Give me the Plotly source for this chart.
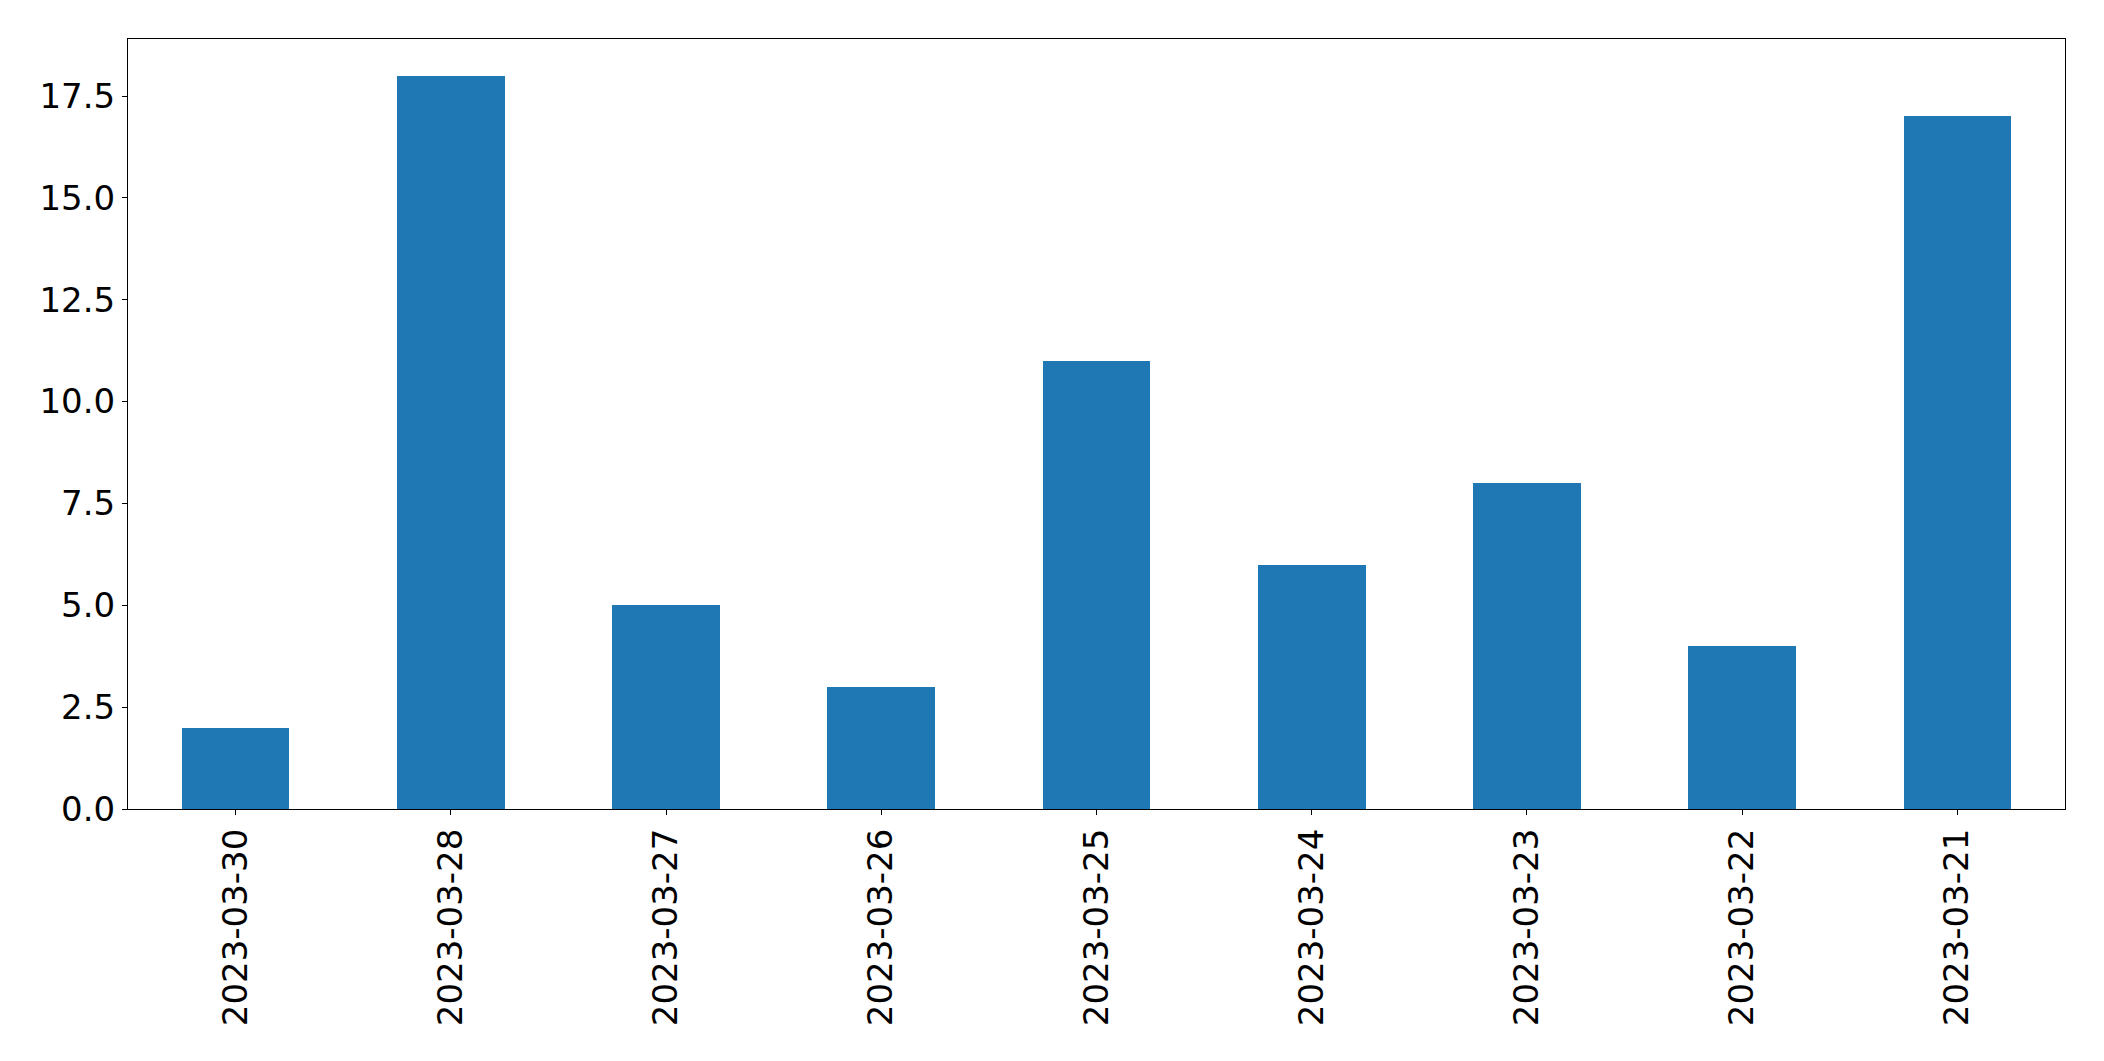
import plotly.graph_objects as go

dates = ["2023-03-30", "2023-03-28", "2023-03-27", "2023-03-26", "2023-03-25",
         "2023-03-24", "2023-03-23", "2023-03-22", "2023-03-21"]
counts = [2, 18, 5, 3, 11, 6, 8, 4, 17]
y_ticks = [0, 2.5, 5, 7.5, 10, 12.5, 15, 17.5]

fig = go.Figure(go.Bar(x=list(range(len(dates))), y=counts, width=0.5,
                       marker=dict(color="#1f77b4", line=dict(width=0))))

font = dict(family="DejaVu Sans", size=34, color="black")
fig.update_layout(
    width=2104, height=1061,
    margin=dict(l=127.5, r=38.7, t=39.3, b=252, autoexpand=False),
    paper_bgcolor="white", plot_bgcolor="white",
    showlegend=False, font=font, bargap=0,
)
fig.update_xaxes(
    range=[-0.5, 8.5], tickmode="array", tickvals=list(range(len(dates))), ticktext=dates,
    tickangle=-90, ticks="outside", ticklen=5, tickwidth=1.1, tickcolor="black",
    showline=True, linecolor="black", linewidth=1.1, mirror=True,
    showgrid=False, zeroline=False, tickfont=font,
)
fig.update_yaxes(
    range=[0, 18.9], tickmode="array", tickvals=y_ticks,
    ticktext=[f"{v:.1f}" for v in y_ticks],
    ticks="outside", ticklen=5, tickwidth=1.1, tickcolor="black",
    showline=True, linecolor="black", linewidth=1.1, mirror=True,
    showgrid=False, zeroline=False, tickfont=font,
)
fig.write_html("out.html", config={"displayModeBar": False},
               post_script="document.body.style.margin='0';document.body.style.overflow='hidden';")
